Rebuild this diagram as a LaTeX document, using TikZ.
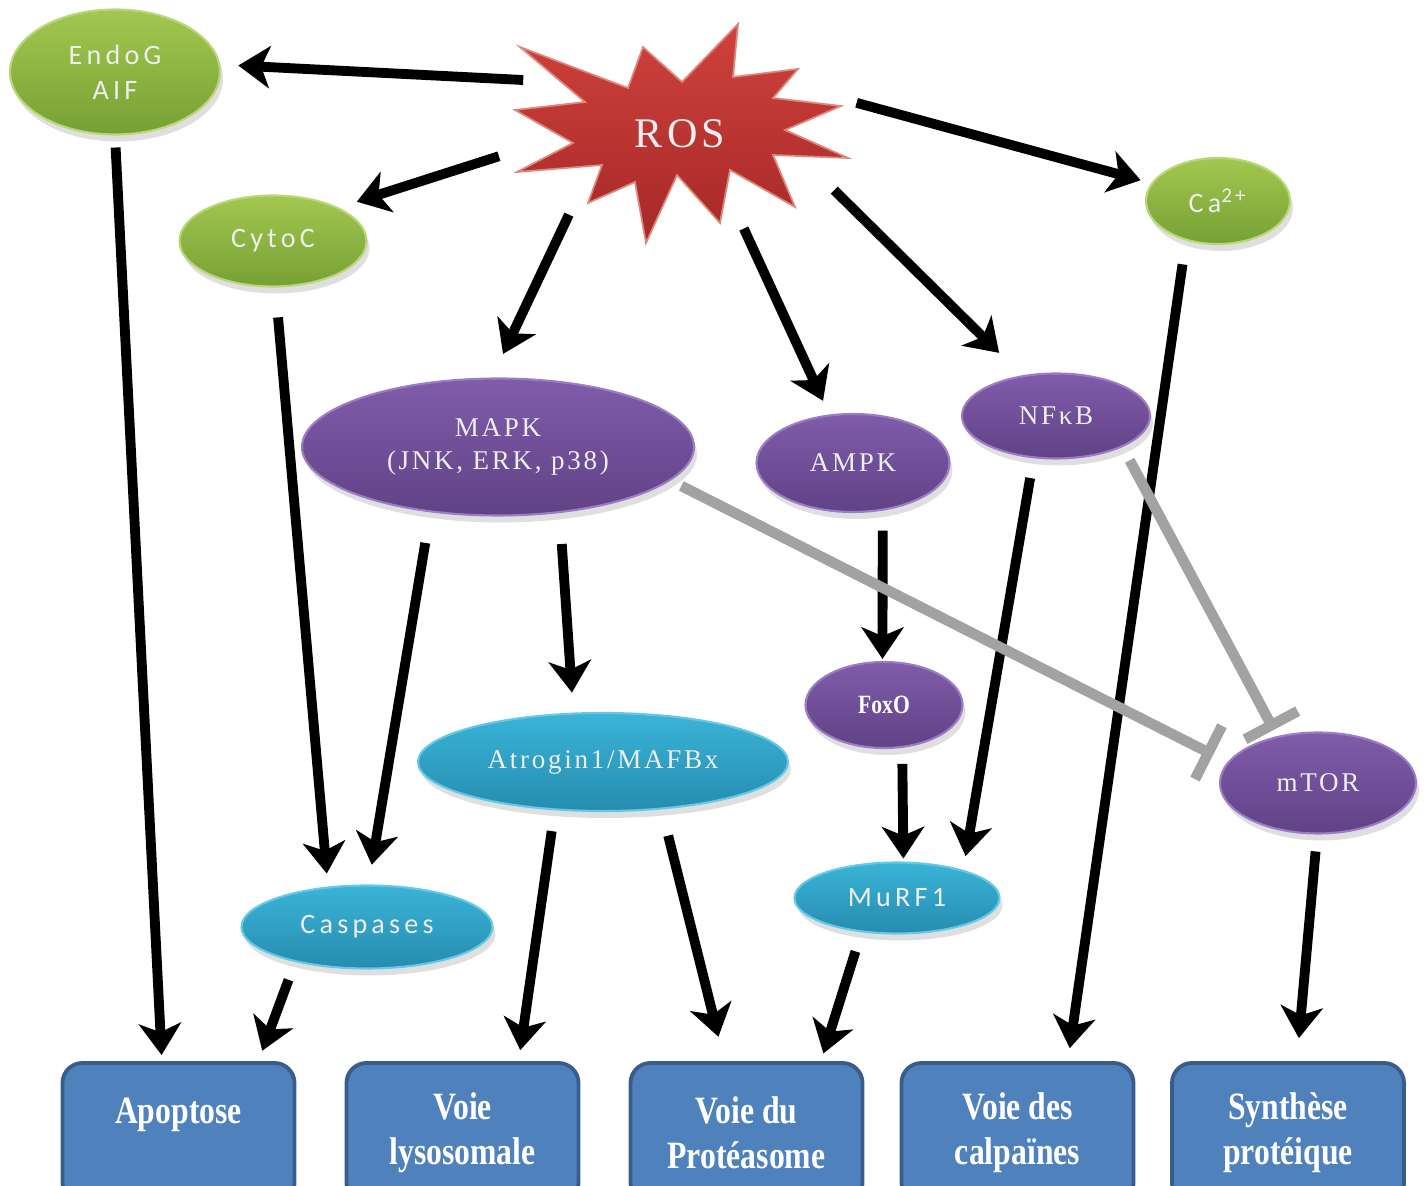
\documentclass[tikz,border=0pt]{standalone}
\usepackage{fontspec}
\setmainfont{Liberation Serif}
\newfontfamily\labelsans{Carlito}[LetterSpace=15]
\newfontfamily\labelserif{Liberation Serif}[LetterSpace=10]
\newfontfamily\boxserif{Liberation Serif}[FakeStretch=0.82]
\usetikzlibrary{arrows.meta,shapes.geometric,shadows}

\definecolor{greentop}{RGB}{163,200,80}
\definecolor{greenbot}{RGB}{118,160,52}
\definecolor{greenline}{RGB}{185,215,120}
\definecolor{violettop}{RGB}{128,92,170}
\definecolor{violetbot}{RGB}{96,66,134}
\definecolor{violetline}{RGB}{155,125,195}
\definecolor{cyantop}{RGB}{58,180,215}
\definecolor{cyanbot}{RGB}{38,140,175}
\definecolor{cyanline}{RGB}{100,200,230}
\definecolor{rostop}{RGB}{208,66,60}
\definecolor{rosbot}{RGB}{165,40,40}
\definecolor{rosline}{RGB}{222,135,125}
\definecolor{voiefill}{RGB}{79,129,189}
\definecolor{voieline}{RGB}{56,93,138}
\definecolor{labeltext}{RGB}{238,238,238}
\definecolor{inhgray}{RGB}{162,162,162}

\tikzset{
	ell/.style={ellipse, inner sep=0pt, align=center, line width=0.6pt, text=labeltext,
		drop shadow={shadow xshift=0.3mm, shadow yshift=-0.7mm, opacity=0.25}},
	greenell/.style={ell, top color=greentop, bottom color=greenbot, draw=greenline,
		font=\labelsans\fontsize{8}{10}\selectfont},
	violetell/.style={ell, top color=violettop, bottom color=violetbot, draw=violetline,
		font=\labelserif\fontsize{7.7}{9.4}\selectfont},
	cyanell/.style={ell, top color=cyantop, bottom color=cyanbot, draw=cyanline,
		font=\labelsans\fontsize{8}{10}\selectfont},
	voie/.style={rectangle, rounded corners=2mm, fill=voiefill, draw=voieline, line width=1.1pt,
		minimum width=23.2mm, minimum height=14mm, align=center, text=white,
		font=\boxserif\bfseries\fontsize{11}{12.8}\selectfont},
	arr/.style={line width=2.8pt, -{Stealth[length=9pt,width=12pt,inset=2.5pt]}},
	inh/.style={line width=3pt, draw=inhgray, -{Bar[width=17pt]}},
}

\begin{document}
\begin{tikzpicture}[x=0.1mm, y=-0.1mm]
			%%%%% START %%%%%
			\useasboundingbox (0,0) rectangle (1427,1186);
			\clip (0,0) rectangle (1427,1186);
			
			\draw[top color=rostop, bottom color=rosbot, draw=rosline, line width=0.5pt]
				(520,47) -- (628,88) -- (643,47) -- (682,82) -- (738,24) -- (733,77)
				-- (798,69) -- (773,98) -- (841,106) -- (785,130) -- (848,158)
				-- (773,155) -- (795,207) -- (730,170) -- (720,223) -- (677,175)
				-- (646,243) -- (635,182) -- (588,203) -- (602,165) -- (517,172)
				-- (573,143) -- (515,110) -- (585,102) -- cycle;
			\node[ellipse, minimum width=37mm, minimum height=20mm, inner sep=0pt, text=labeltext,
				font=\labelserif\fontsize{12}{14}\selectfont] (ros) at (680,134) {ROS};
			
			\node[greenell, minimum width=21mm, minimum height=12.5mm] (endog) at (115,72) {EndoG\\AIF};
			\node[greenell, minimum width=18.7mm, minimum height=9.1mm] (cytoc) at (273,241) {CytoC};
			\node[greenell, minimum width=14.4mm, minimum height=8.6mm] (ca) at (1218,201) {Ca\textsuperscript{2+}};
			
			\node[violetell, minimum width=39.2mm, minimum height=13.7mm] (mapk) at (498,447) {MAPK\\(JNK, ERK, p38)};
			\node[violetell, minimum width=19.3mm, minimum height=9.8mm] (ampk) at (853,463) {AMPK};
			\node[violetell, minimum width=18.8mm, minimum height=8.5mm] (nfkb) at (1056,416) {NFκB};
			\node[violetell, minimum width=15.7mm, minimum height=8.6mm, text=white,
				font=\boxserif\bfseries\fontsize{7.5}{9}\selectfont] (foxo) at (884,705) {FoxO};
			\node[violetell, minimum width=19.6mm, minimum height=10.1mm] (mtor) at (1318,783) {mTOR};
			
			\node[cyanell, minimum width=37mm, minimum height=9.8mm,
				font=\labelserif\fontsize{7.7}{9.4}\selectfont] (atrogin) at (603,762) {Atrogin1/MAFBx};
			\node[cyanell, minimum width=20.5mm, minimum height=7.1mm] (murf) at (897,898) {MuRF1};
			\node[cyanell, minimum width=25.1mm, minimum height=8.3mm] (casp) at (367,927) {Caspases};
			
			\node[voie] (apop) at (178.5,1133) {Apoptose\\\mbox{}};
			\node[voie] (lyso) at (462.5,1133) {Voie\\lysosomale};
			\node[voie] (prot) at (746.5,1133) {Voie du\\Protéasome};
			\node[voie] (calp) at (1017.5,1133) {Voie des\\calpaïnes};
			\node[voie] (synth) at (1288,1133) {Synthèse\\protéique};
			
			\draw[arr, shorten >=1.8mm] (ros.161) -- (endog.4);
			\draw[arr, shorten >=1.9mm] (ros.187) -- (cytoc.27);
			\draw[arr, shorten >=2.6mm] (ros.216) -- (mapk.95);
			\draw[arr, shorten >=1.5mm] (ros.304) -- (ampk.116);
			\draw[arr, shorten >=3.2mm] (ros.340) -- (nfkb.130);
			\draw[arr, shorten >=1.1mm] (ros.10) -- (ca.165);
			
			\draw[arr, shorten <=1.2mm, shorten >=0.6mm] (endog.south) -- (apop.103);
			\draw[arr, shorten <=3mm, shorten >=1.3mm] (cytoc.273) -- (casp.134);
			\draw[arr, shorten <=3.1mm, shorten >=2mm] (mapk.224) -- (casp.88);
			\draw[arr, shorten <=3.1mm, shorten >=2mm] (mapk.313) -- (atrogin.121);
			\draw[arr, shorten <=2mm, shorten >=0.2mm] (ampk.302) -- (foxo.92);
			\draw[arr, shorten <=1.6mm, shorten >=0.3mm] (foxo.293) -- (murf.80);
			\draw[arr, shorten <=2mm, shorten >=1.4mm] (nfkb.242) -- (murf.23);
			\draw[arr, shorten <=2.4mm, shorten >=1.3mm] (ca.231) -- (calp.55);
			\draw[arr, shorten <=1.7mm, shorten >=2.3mm] (mtor.269) -- (synth.83);
			\draw[arr, shorten <=1.9mm, shorten >=1.1mm] (casp.206) -- (apop.42);
			\draw[arr, shorten <=2.1mm, shorten >=1.1mm] (atrogin.225) -- (lyso.52);
			\draw[arr, shorten <=2.7mm, shorten >=2.5mm] (atrogin.321) -- (prot.107);
			\draw[arr, shorten <=2mm, shorten >=0.8mm] (murf.224) -- (prot.44);
			
			\draw[inh, shorten <=1.2mm, shorten >=1.6mm] (mapk.349) -- (mtor.167);
			\draw[inh, shorten <=1.5mm, shorten >=0.7mm] (nfkb.335) -- (mtor.131);
			
			%%%%% END %%%%%
\end{tikzpicture}
\end{document}
